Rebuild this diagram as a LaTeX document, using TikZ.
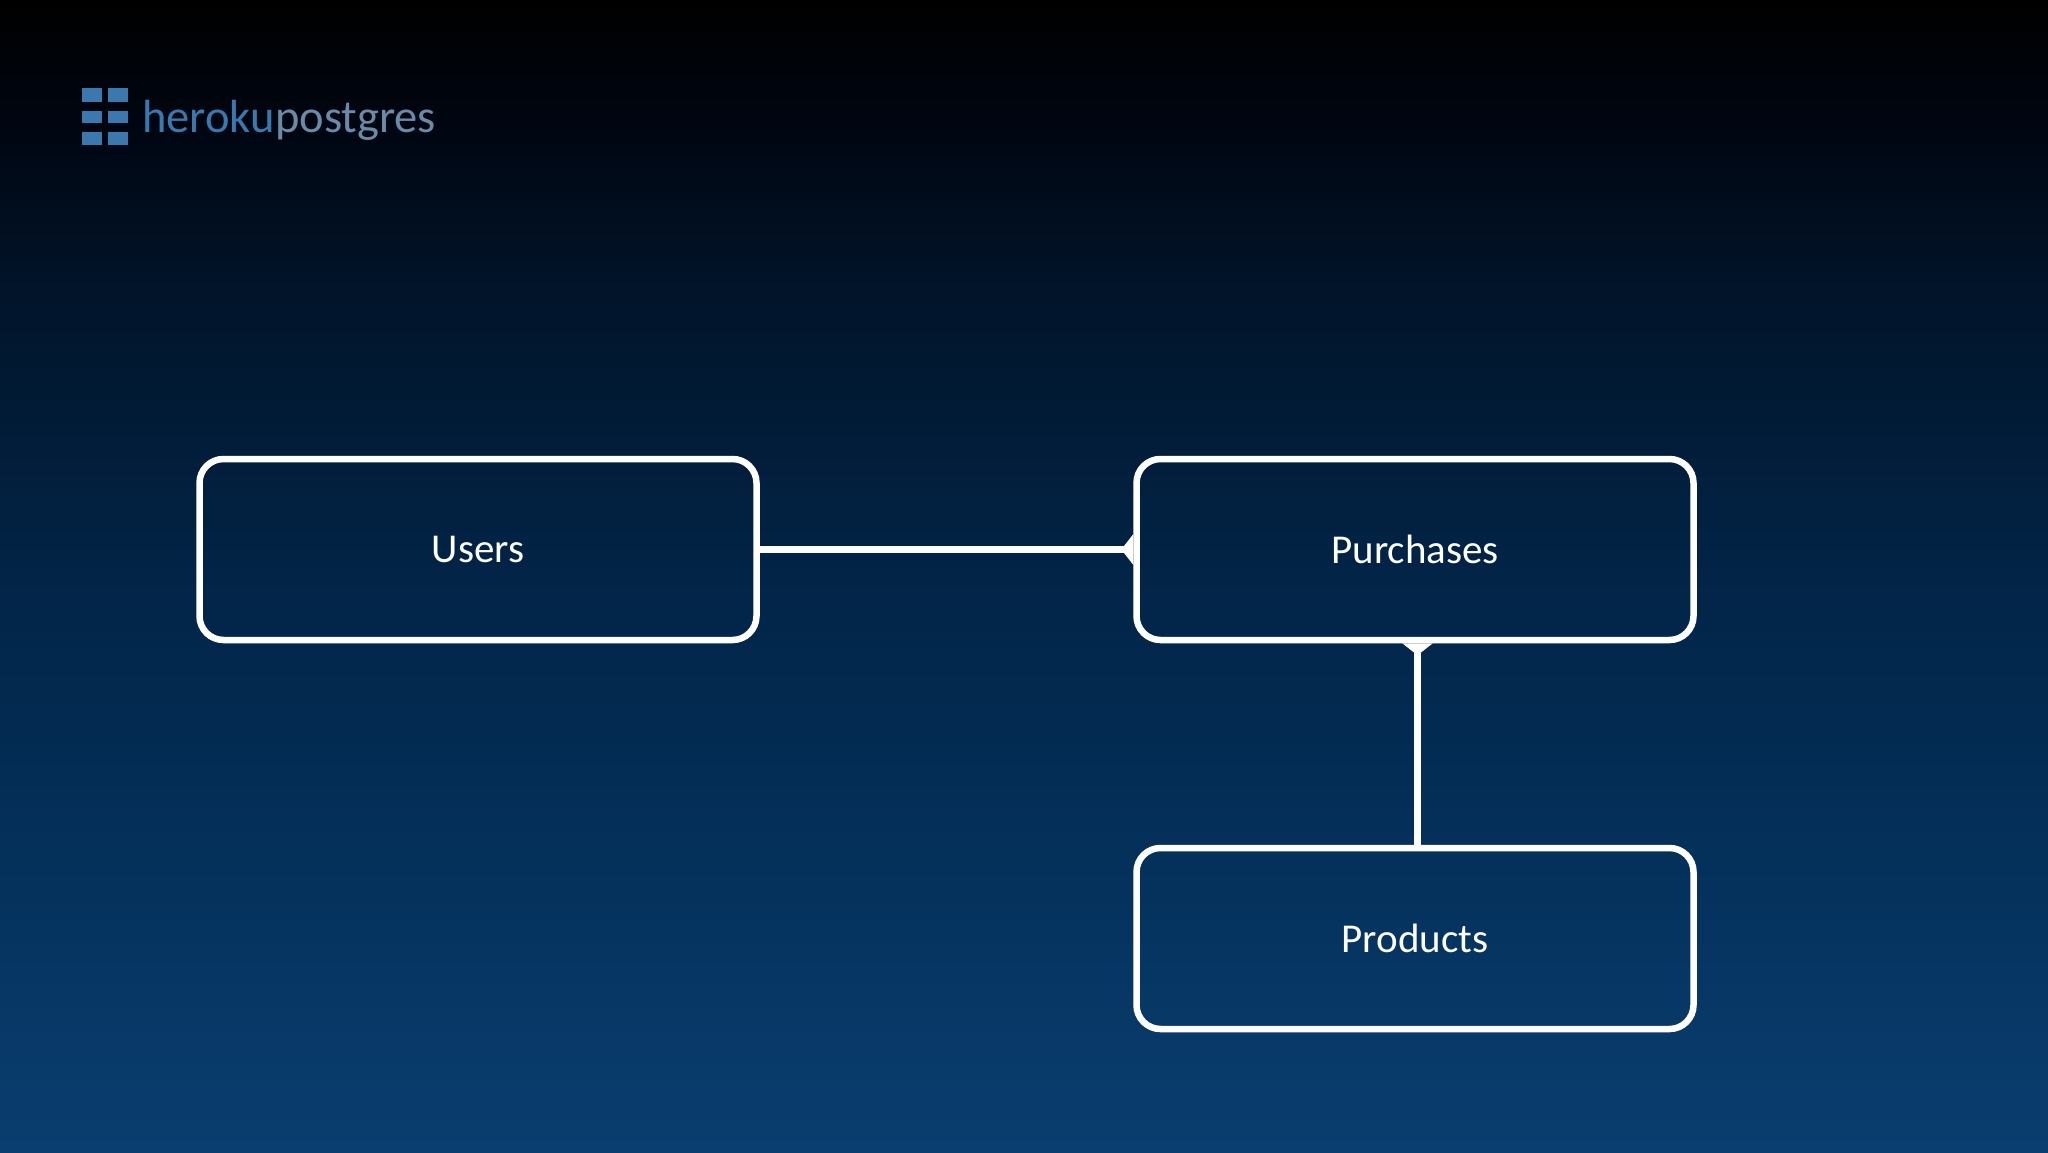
\documentclass[tikz,border=0pt]{standalone}
\usepackage{fontspec}
\setmainfont{Carlito}
\newfontfamily\logofont{Carlito}
\usetikzlibrary{arrows.meta}
\definecolor{logoblue}{HTML}{3A78AE}
\definecolor{logogray}{HTML}{6B8AA8}
\definecolor{skyA}{HTML}{0A3E70}
\definecolor{skyB}{HTML}{04315B}
\definecolor{skyC}{HTML}{022447}
\definecolor{skyD}{HTML}{011429}
\definecolor{skyE}{HTML}{000713}
\pgfdeclareverticalshading{skygrad}{100bp}{
 color(0bp)=(skyA);
 color(25bp)=(skyA);
 color(37.5bp)=(skyB);
 color(50bp)=(skyC);
 color(62.5bp)=(skyD);
 color(69bp)=(skyE);
 color(75bp)=(black);
 color(100bp)=(black)}
\tikzset{
 x=1pt,y=-1pt,
 entity/.style={draw=white,line width=6.5pt,rounded corners=24pt,minimum width=557pt,minimum height=181pt,
   text=white,font=\fontsize{41}{48}\selectfont,inner sep=0pt},
 link/.style={draw=white,line width=6.5pt},
 foot/.style={-{Triangle[reversed,width=30pt,length=12pt,fill=white]}},
 logosq/.style={fill=logoblue,draw=none},
 logotxt/.style={anchor=base west,inner sep=0pt,font=\logofont\fontsize{46.5}{54}\selectfont}
}
\begin{document}
\begin{tikzpicture}
\useasboundingbox (0,0) rectangle (2048,1152);
\fill[shading=skygrad,shading angle=0] (0,0) rectangle (2048,1152);
% logo
\foreach \cx in {82,108}{
 \fill[logosq] (\cx,88) rectangle +(20,14);
 \fill[logosq] (\cx,111) rectangle +(20,12);
 \fill[logosq] (\cx,132) rectangle +(20,13);
}
\node[logotxt,text=logoblue] (heroku) at (142,132) {heroku};
\node[logotxt,text=logogray,anchor=base west] (postgres) at (heroku.base east) {postgres};
% entities
\node[entity] (users) at (478,549.5) {Users};
\node[entity] (purchases) at (1415,549.5) {Purchases};
\node[entity] (products) at (1415,938.5) {Products};
% connectors
\draw[link,foot] (users.east) -- (purchases.west);
\draw[link,foot] ([xshift=2.5pt]products.north) -- ([xshift=2.5pt]purchases.south);
\end{tikzpicture}
\end{document}
